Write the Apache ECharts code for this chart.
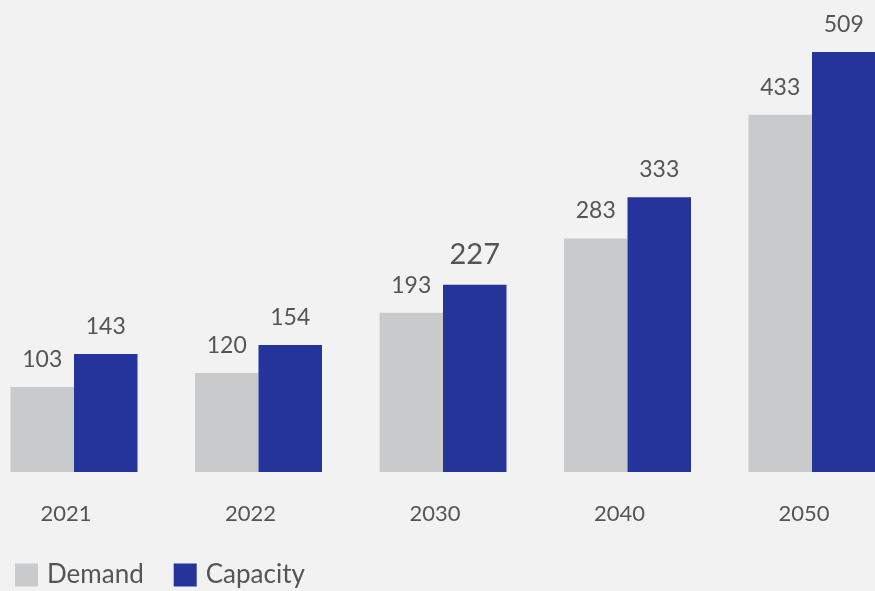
<!DOCTYPE html>
<html>
<head>
<meta charset="utf-8">
<script src="https://cdn.jsdelivr.net/npm/echarts@6/dist/echarts.min.js"></script>
<style>
  html, body { margin: 0; padding: 0; background: #f2f2f2; }
  #chart { width: 875px; height: 591px; }
</style>
</head>
<body>
<div id="chart"></div>
<script>
// Demand vs. capacity by year
const years = ['2021', '2022', '2030', '2040', '2050'];
const demand = [103, 120, 193, 283, 433];
const capacity = [143, 154, 227, 333, 509];
// capacity value shown with a larger label
const highlightedCapacityIndex = 2;

const textColor = '#555555';
const fontFamily = 'Lato, "Noto Sans", sans-serif';

const chart = echarts.init(document.getElementById('chart'));

const capacityData = capacity.map((v, i) =>
  i === highlightedCapacityIndex ? { value: v, label: { fontSize: 29 } } : v
);

chart.setOption({
  backgroundColor: '#f2f2f2',
  animation: false,
  grid: {
    left: -18.25, right: -29.25, top: 0, bottom: 119,
    containLabel: false, outerBoundsMode: 'none'
  },
  legend: {
    left: 10,
    top: 557,
    itemWidth: 23,
    itemHeight: 23,
    itemGap: 30,
    icon: 'rect',
    textStyle: { color: textColor, fontSize: 26, fontFamily: fontFamily, padding: [0, 0, 0, 4] },
    data: ['Demand', 'Capacity']
  },
  xAxis: {
    type: 'category',
    data: years,
    axisLine: { show: false },
    axisTick: { show: false },
    axisLabel: { color: textColor, fontSize: 22, fontFamily: fontFamily, margin: 31, padding: [0, 16, 0, 0] }
  },
  yAxis: {
    type: 'value',
    min: 0,
    max: 572,
    show: false,
    splitLine: { show: false }
  },
  series: [
    {
      name: 'Demand',
      type: 'bar',
      data: demand,
      barWidth: 63.5,
      barGap: '0%',
      itemStyle: { color: '#c8cacc' },
      label: { show: true, position: 'top', distance: 16, color: textColor, fontSize: 23, fontFamily: fontFamily }
    },
    {
      name: 'Capacity',
      type: 'bar',
      data: capacityData,
      barWidth: 63.5,
      itemStyle: { color: '#25349a' },
      label: { show: true, position: 'top', distance: 16, color: textColor, fontSize: 23, fontFamily: fontFamily }
    }
  ]
});
</script>
</body>
</html>
